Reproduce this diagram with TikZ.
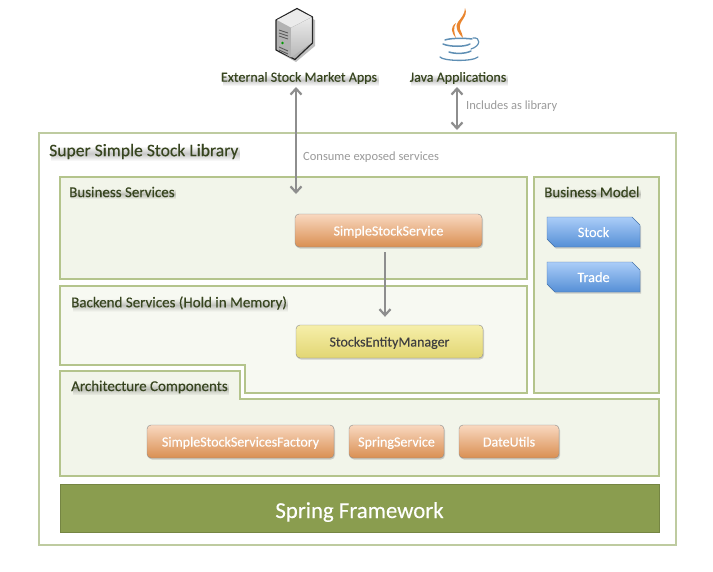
\documentclass[tikz,border=0pt]{standalone}
\usepackage{fontspec}
\setmainfont{Carlito}
\usepackage{tikz}
\usetikzlibrary{arrows.meta,shadows,shapes.misc,fadings}

\definecolor{PanelEdge}{HTML}{B4C48C}
\definecolor{PanelFill}{HTML}{F2F5EA}
\definecolor{MemFill}{HTML}{F7F9F2}
\definecolor{OuterEdge}{HTML}{BECBA0}
\definecolor{HeadText}{HTML}{37451F}
\definecolor{NoteText}{HTML}{9A9A9A}
\definecolor{LinkGray}{HTML}{8E8E8E}
\definecolor{SpringBar}{HTML}{8A9D4F}
\definecolor{FlameOrange}{HTML}{E9852F}
\definecolor{CupBlue}{HTML}{5F8FB4}
\definecolor{ShellTop}{HTML}{F9D8C0}
\definecolor{ShellLow}{HTML}{D98F52}
\definecolor{LemonTop}{HTML}{F6EFAA}
\definecolor{LemonLow}{HTML}{E2D673}
\definecolor{BlueTop}{HTML}{ABCDF8}
\definecolor{BlueLow}{HTML}{558FD6}

\tikzfading[name=softband,top color=transparent!100,bottom color=transparent!100,middle color=transparent!0]

\newcommand{\headfont}[1]{\fontsize{#1}{#1}\selectfont\addfontfeature{FakeBold=0.2}}

\begin{document}
\begin{tikzpicture}[x=1pt,y=-1pt,
			barb/.tip={Straight Barb[length=6pt,width=11pt,line width=2.2pt]},
			softshade/.style={preaction={fill=black,fill opacity=.22,path fading=softband,
				transform canvas={xshift=1.5pt,yshift=-2pt}}},
			panel/.style={draw=PanelEdge,fill=PanelFill,line width=1.1pt},
			heading/.style={softshade,anchor=west,text=HeadText,font=\headfont{15},inner sep=0pt},
			note/.style={anchor=west,text=NoteText,font=\fontsize{12.5}{14}\selectfont,inner sep=0pt},
			appname/.style={softshade,text=HeadText,font=\headfont{14},inner sep=0pt,outer sep=3pt},
			unit/.style={draw=black!45,rounded corners=4pt,minimum height=33pt,inner sep=0pt,text=white,
				font=\headfont{14},text height=11pt,text depth=1pt,
				drop shadow={opacity=.35,shadow xshift=1pt,shadow yshift=-1.5pt}},
			orangeunit/.style={unit,top color=ShellTop,bottom color=ShellLow},
			yellowunit/.style={unit,top color=LemonTop,bottom color=LemonLow,text=black!75},
			modelunit/.style={chamfered rectangle,chamfered rectangle corners={north east,south west},
				chamfered rectangle xsep=4pt,chamfered rectangle ysep=4pt,draw=BlueLow!80!black,
				minimum width=93pt,minimum height=30pt,inner sep=0pt,text=white,
				top color=BlueTop,bottom color=BlueLow,font=\headfont{14.3},text height=11pt,text depth=1pt,
				drop shadow={opacity=.35,shadow xshift=1pt,shadow yshift=-1.5pt}},
			link/.style={draw=LinkGray,line width=2.8pt}]
	\useasboundingbox (0,0) rectangle (713,571);

	\draw[draw=OuterEdge,fill=white,line width=1.1pt] (39,133) rectangle (676,545);
	\draw[panel] (60,177) rectangle (527,279);
	\draw[panel,fill=MemFill] (60,286) -- (527,286) -- (527,393) -- (245,393) -- (245,365) -- (60,365) -- cycle;
	\draw[panel] (60,371) -- (240,371) -- (240,399) -- (659,399) -- (659,476) -- (60,476) -- cycle;
	\draw[panel] (534,177) rectangle (659,393);
	\node[fill=SpringBar,draw=SpringBar!85!black,minimum width=599pt,minimum height=48pt,inner sep=0pt,
		text=white,font=\headfont{22.8},text height=20pt,text depth=0pt] (spring) at (359.5,508) {Spring Framework};

	\fill[black!25] (278,24) -- (298,12) -- (315,20) -- (315,46) -- (296,62) -- (278,52) -- cycle;
	\draw[black!85,line width=1.2pt,line join=round,fill=black!30]
		(276,20) -- (297,8.5) -- (312.5,17) -- (312.5,43) -- (295,59.5) -- (276,50) -- cycle;
	\fill[black!30] (277,21) -- (291,28) -- (291,57.5) -- (277,49.5) -- cycle;
	\shade[top color=black!8,bottom color=black!28] (291,28) -- (311.5,17.5) -- (311.5,42.5) -- (291,57.5) -- cycle;
	\fill[black!8] (277,20) -- (297,9.5) -- (311.5,17) -- (291,27.5) -- cycle;
	\foreach \slot in {30,33,36}
		\draw[black!65,line width=.9pt] (279,\slot) -- (288,\slot+3);
	\foreach \slot in {47,50}
		\draw[black!65,line width=.9pt] (279,\slot) -- (288,\slot+4);
	\fill[green!60!black] (282.5,43) circle (1.3);

	\fill[FlameOrange] (465,8) .. controls (469,17) and (458,21) .. (460,29) .. controls (461,32) and (463,35) .. (463,38)
		.. controls (459,34) and (454,28) .. (458,22) .. controls (461,18) and (465,14) .. (465,8) -- cycle;
	\fill[FlameOrange] (456,23) .. controls (450,27) and (451,32) .. (456,38) .. controls (454,32) and (453,28) .. (456,23) -- cycle;
	\draw[CupBlue,line width=1.5pt,line cap=round] (445,40) .. controls (450,38) and (465,38) .. (472,39);
	\draw[CupBlue,line width=1.5pt,line cap=round] (443,44) .. controls (450,47) and (465,47) .. (470,44);
	\draw[CupBlue,line width=1.5pt,line cap=round] (449,52) .. controls (455,54) and (465,54) .. (471,51);
	\draw[CupBlue,line width=1.2pt,line cap=round] (473,38) .. controls (481,37) and (481,46) .. (471,49);
	\draw[CupBlue,line width=1.3pt,line cap=round] (440,57) .. controls (443,61) and (472,62) .. (478,57);

	\node[appname] (extapps) at (299,78) {External Stock Market Apps};
	\node[appname] (javaapps) at (458,78) {Java Applications};
	\node[note] (inclabel) at (466,106) {Includes as library};
	\node[note] (conlabel) at (303,157.5) {Consume exposed services};

	\node[heading,font=\headfont{17.6}] (library) at (49,151.5) {Super Simple Stock Library};
	\node[heading] (busserv) at (69,192) {Business Services};
	\node[heading] (backend) at (71,303) {Backend Services (Hold in Memory)};
	\node[heading] (archcomp) at (71,387) {Architecture Components};
	\node[heading] (busmodel) at (544,192) {Business Model};

	\node[orangeunit,minimum width=187pt] (service) at (388.5,230.5) {SimpleStockService};
	\node[yellowunit,minimum width=187pt] (manager) at (389.5,341.5) {StocksEntityManager};
	\node[orangeunit,minimum width=187pt] (factory) at (240.5,441.5) {SimpleStockServicesFactory};
	\node[orangeunit,minimum width=95pt] (springsvc) at (396.5,441.5) {SpringService};
	\node[orangeunit,minimum width=100pt] (dateutils) at (509,441.5) {DateUtils};
	\node[modelunit] (stock) at (593.5,232) {Stock};
	\node[modelunit] (trade) at (593.5,277) {Trade};

	\coordinate (consume) at (296,194);
	\coordinate (libtop) at (457,130);
	\draw[link,barb-barb] (extapps.south -| consume) -- (consume);
	\draw[link,barb-barb] (javaapps.south -| libtop) -- (libtop);
	\draw[link,-barb] ([xshift=-3.5pt,yshift=-5pt]service.south) -- ([xshift=-4.5pt,yshift=8pt]manager.north);
\end{tikzpicture}
\end{document}
